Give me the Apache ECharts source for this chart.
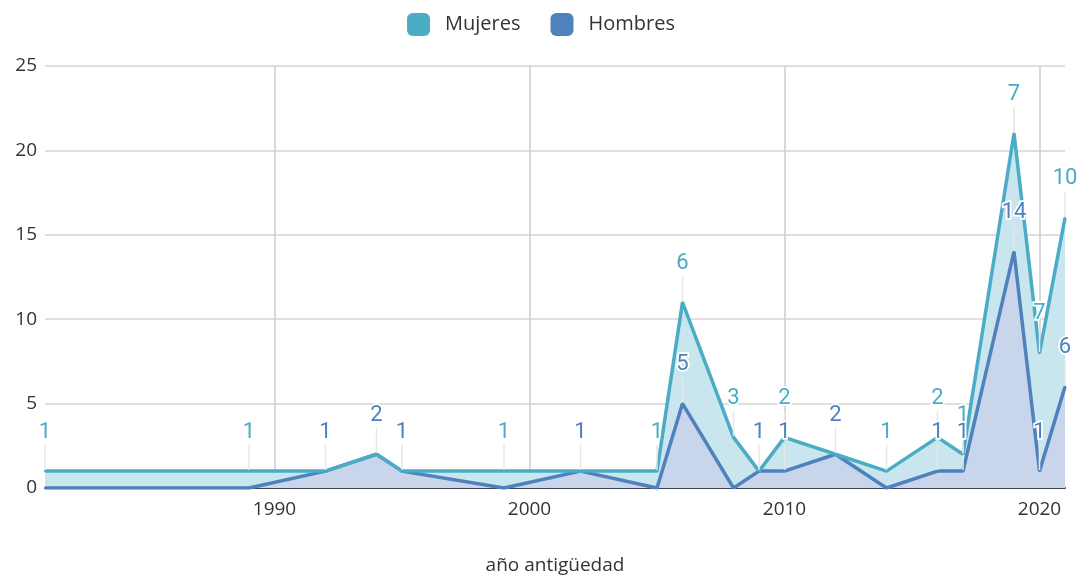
<!DOCTYPE html>
<html>
<head>
<meta charset="utf-8">
<script src="https://cdn.jsdelivr.net/npm/echarts@6/dist/echarts.min.js"></script>
<style>
  html, body { margin: 0; padding: 0; background: #fff; }
  #chart { width: 1082px; height: 580px; }
</style>
</head>
<body>
<div id="chart"></div>
<script>
// años con datos y valores por serie (apilados: Hombres abajo, Mujeres arriba)
const years = [1981, 1989, 1992, 1994, 1995, 1999, 2002, 2005, 2006, 2008, 2009, 2010, 2012, 2014, 2016, 2017, 2019, 2020, 2021]
const hombres = [0, 0, 1, 2, 1, 0, 1, 0, 5, 0, 1, 1, 2, 0, 1, 1, 14, 1, 6]
const mujeres = [1, 1, 0, 0, 0, 1, 0, 1, 6, 3, 0, 2, 0, 1, 2, 1, 7, 7, 10]
const yTicks = [0, 5, 10, 15, 20, 25]

const uiFont = '"Open Sans", "Noto Sans", sans-serif'
const teal = '#4bacc6'
const blue = '#4f81bd'

// two value axes make echarts stack on x, so stack by hand
const total = hombres.map((h, i) => h + mujeres[i])

const toData = (ys, vals) => ys.map((y, i) => {
  const item = { value: [years[i], y] }
  if (vals[i] === 0) {
    item.label = { show: false }
    item.labelLine = { show: false }
  }
  return item
})

const labelOf = (vals, color) => ({
  show: true,
  position: 'top',
  distance: 4,
  color,
  fontFamily: 'Roboto, sans-serif',
  fontSize: 22,
  textBorderColor: '#fff',
  textBorderWidth: 3.5,
  formatter: (p) => String(vals[p.dataIndex])
})

const chart = echarts.init(document.getElementById('chart'))
chart.setOption({
  animation: false,
  legend: {
    top: 8,
    left: 'center',
    itemWidth: 23,
    itemHeight: 23,
    itemGap: 30,
    icon: 'roundRect',
    textStyle: { fontFamily: uiFont, fontSize: 20, color: '#333', padding: [0, 0, 0, 10] },
    data: ['Mujeres', 'Hombres']
  },
  grid: { left: 45, right: 17, top: 66, bottom: 91 },
  xAxis: {
    type: 'value',
    min: years[0],
    max: years[years.length - 1],
    splitNumber: 4,
    name: 'año antigüedad',
    nameLocation: 'middle',
    nameGap: 68,
    nameTextStyle: { fontFamily: uiFont, fontSize: 19, color: '#333' },
    axisLine: { show: true, lineStyle: { color: '#3d4450', width: 2 } },
    axisTick: { show: false },
    axisLabel: {
      showMinLabel: false,
      showMaxLabel: false,
      margin: 12,
      fontFamily: uiFont,
      fontSize: 19,
      color: '#333',
      formatter: (v) => String(v)
    },
    splitLine: { show: true, showMinLine: false, showMaxLine: false, lineStyle: { color: '#cccccc', width: 1.5 } }
  },
  yAxis: {
    type: 'value',
    min: yTicks[0],
    max: yTicks[yTicks.length - 1],
    interval: 5,
    axisLine: { show: false },
    axisTick: { show: false },
    axisLabel: { margin: 8, fontFamily: uiFont, fontSize: 19, color: '#333' },
    splitLine: { lineStyle: { color: '#d4d4d4', width: 1.5 } }
  },
  series: [
    {
      // área de Mujeres (hasta el total)
      name: 'Mujeres',
      type: 'line',
      z: 1,
      data: total.map((t, i) => [years[i], t]),
      symbol: 'none',
      itemStyle: { color: teal },
      lineStyle: { width: 0 },
      areaStyle: { color: '#c9e6ee', opacity: 1 },
      silent: true
    },
    {
      name: 'Hombres',
      type: 'line',
      z: 3,
      data: toData(hombres, hombres),
      showSymbol: true,
      symbol: 'circle',
      symbolSize: 2,
      itemStyle: { color: blue },
      lineStyle: { color: blue, width: 3.5 },
      areaStyle: { color: '#c9d5ea', opacity: 1 },
      label: labelOf(hombres, blue),
      labelLayout: { dy: -23 },
      labelLine: { show: true, lineStyle: { color: '#e6e6e6', width: 1.5 } },
      emphasis: { disabled: true }
    },
    {
      // línea de Mujeres encima
      name: 'Mujeres',
      type: 'line',
      z: 3,
      data: toData(total, mujeres),
      showSymbol: true,
      symbol: 'circle',
      symbolSize: 2,
      itemStyle: { color: teal },
      lineStyle: { color: teal, width: 3.5 },
      label: labelOf(mujeres, teal),
      labelLayout: { dy: -23 },
      labelLine: { show: true, lineStyle: { color: '#e6e6e6', width: 1.5 } },
      emphasis: { disabled: true }
    }
  ]
})
</script>
</body>
</html>
